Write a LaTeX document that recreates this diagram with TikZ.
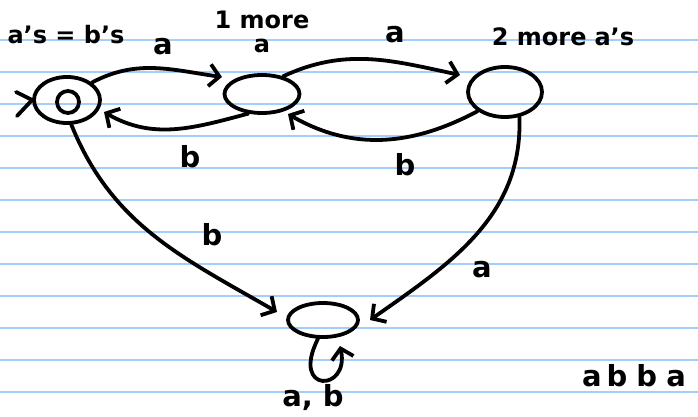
\documentclass[tikz,border=0pt]{standalone}
\usepackage{fontspec}
\setmainfont{DejaVu Sans}
\usetikzlibrary{arrows.meta,shapes.geometric}
\definecolor{ruleblue}{RGB}{165,205,250}
\begin{document}
\begin{tikzpicture}[x=1pt,y=1pt,
  ink/.style={line width=3.8pt,line cap=round,line join=round,black},
  state/.style={ink,draw,ellipse,inner sep=0pt},
  edge/.style={ink,-{Straight Barb[length=10pt,width=22pt,line width=3.8pt]}},
  lbl/.style={font=\fontsize{29}{32}\bfseries\selectfont,inner sep=1pt},
  ttl/.style={font=\fontsize{24}{26}\bfseries\selectfont,inner sep=1pt}]
\useasboundingbox (0,0) rectangle (698,416);
\fill[white] (0,0) rectangle (698,416);
\foreach \k in {0,...,11}{
  \draw[ruleblue,line width=1.4pt] (0,{376-32*\k}) -- (698,{376-32*\k});
}
% states
\node[state,minimum width=66pt,minimum height=46pt] (q0) at (67,316) {};
\node[state,circle,minimum size=22pt] (q0in) at (68,314) {};
\node[state,minimum width=75pt,minimum height=38pt] (q1) at (262,322) {};
\node[state,minimum width=74pt,minimum height=50pt] (q2) at (505,324) {};
\node[state,minimum width=70pt,minimum height=34pt] (q3) at (323,96) {};
% initial marker
\coordinate (i1) at (16,324);
\coordinate (i2) at (17,300);
\draw[ink] (i1) -- (q0.west) -- (i2);
% transitions
\coordinate (t01) at (222,339);
\draw[edge] (q0.35) to[out=28,in=172] (t01);
\coordinate (t10) at (104,304);
\draw[edge] (q1.-125) to[out=195,in=-30] (t10);
\coordinate (t12) at (460,341);
\draw[edge] (q1.40) to[out=25,in=168] (t12);
\coordinate (t21) at (288,302);
\draw[edge] (q2.-145) to[out=208,in=-30] (t21);
\coordinate (t03) at (277,104);
\draw[edge] (q0.-80) to[out=-68,in=150] (t03);
\coordinate (t23) at (370,96);
\draw[edge] (q2.-60) to[out=-88,in=35] (t23);
\coordinate (t33) at (340,70);
\draw[edge] (q3.-105) .. controls (290,22) and (350,24) .. (t33);
% labels
\node[lbl] (la01) at (163,369) {a};
\node[lbl] (lb10) at (190,259) {b};
\node[lbl] (la12) at (395,381) {a};
\node[lbl] (lb21) at (405,251) {b};
\node[lbl] (lb03) at (212,181) {b};
\node[lbl] (la23) at (482,146) {a};
\node[lbl] (lab33) at (313,18) {a, b};
\node[ttl] (n0) at (66,381) {a's = b's};
\node[ttl,align=center] (n1) at (262,384) {1 more\\[-2pt]a};
\node[ttl] (n2) at (563,379) {2 more\hspace{8pt}a's};
\node[lbl] (w) at (634,40) {a\hspace{5pt}b\hspace{9pt}b\hspace{9pt}a};
\end{tikzpicture}
\end{document}
